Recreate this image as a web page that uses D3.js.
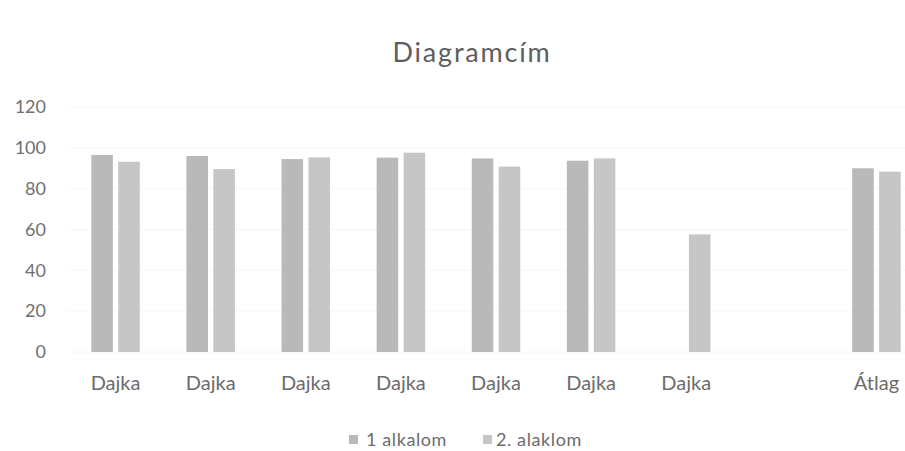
<!DOCTYPE html>
<html>
<head>
<meta charset="utf-8">
<script src="https://cdn.jsdelivr.net/npm/d3@7"></script>
<style>
  html, body { margin: 0; padding: 0; background: #fff; }
  svg { display: block; font-family: Lato, "Open Sans", sans-serif; }
</style>
</head>
<body>
<svg id="chart" width="905" height="451"></svg>
<script>
const title = "Diagramcím";
const categories = ["Dajka", "Dajka", "Dajka", "Dajka", "Dajka", "Dajka", "Dajka", "", "Átlag"];
const seriesNames = ["1 alkalom", "2. alaklom"];
const series1 = [96.5, 96, 94.5, 95.2, 94.8, 93.7, null, null, 90.0];
const series2 = [93.2, 89.6, 95.3, 97.6, 90.8, 94.8, 57.6, null, 88.3];
const yTicks = [0, 20, 40, 60, 80, 100, 120];
const colors = ["#b9b9b9", "#c6c6c6"];

const svg = d3.select("#chart");
const idx = categories.map((d, i) => i);

const x0 = d3.scaleBand().domain(idx).range([68, 924]).padding(0);
const groupW = 48.5;
const x1 = d3.scaleBand().domain([0, 1]).range([0, groupW]).paddingInner(0.2).paddingOuter(0);
const y = d3.scaleLinear().domain([0, 120]).range([352, 107]);

// gridlines (very faint)
svg.append("g")
  .selectAll("line").data(yTicks).join("line")
  .attr("x1", 68).attr("x2", 905)
  .attr("y1", d => y(d)).attr("y2", d => y(d))
  .attr("stroke", "#f6f6f6").attr("stroke-width", 1);

// y axis labels
const yAxis = d3.axisLeft(y).tickValues(yTicks).tickSize(0).tickPadding(0);
const yg = svg.append("g").attr("transform", "translate(46,0)").call(yAxis);
yg.select(".domain").remove();
yg.selectAll("text").attr("font-size", 18).attr("fill", "#707070")
  .attr("font-family", "Lato, sans-serif");

// bars
const data = [series1, series2];
const groups = svg.append("g").selectAll("g").data(idx).join("g")
  .attr("transform", i => `translate(${x0(i) + x0.bandwidth() / 2 - groupW / 2},0)`);
groups.selectAll("rect")
  .data(i => [0, 1].map(s => ({ s, v: data[s][i] })).filter(d => d.v != null))
  .join("rect")
  .attr("x", d => x1(d.s))
  .attr("width", x1.bandwidth())
  .attr("y", d => y(d.v))
  .attr("height", d => y(0) - y(d.v))
  .attr("fill", d => colors[d.s]);

// x axis labels
const xAxis = d3.axisBottom(x0).tickSize(0).tickPadding(0).tickFormat(i => categories[i]);
const xg = svg.append("g").attr("transform", "translate(0,376)").call(xAxis);
xg.select(".domain").remove();
xg.selectAll("text").attr("font-size", 20).attr("fill", "#6c6c6c")
  .attr("font-family", "Lato, sans-serif").attr("dy", "0.71em");

// title
svg.append("text").attr("x", 472).attr("y", 62)
  .attr("text-anchor", "middle").attr("font-size", 27)
  .attr("letter-spacing", 1.8)
  .attr("fill", "#5e5e5e").text(title);

// legend
const legendItems = [{ x: 349, tx: 366 }, { x: 483, tx: 496 }];
const lg = svg.append("g");
seriesNames.forEach((name, s) => {
  lg.append("rect").attr("x", legendItems[s].x).attr("y", 435).attr("width", 9).attr("height", 9)
    .attr("fill", colors[s]);
  lg.append("text").attr("x", legendItems[s].tx).attr("y", 446)
    .attr("font-size", 18).attr("fill", "#6c6c6c").attr("letter-spacing", 0.6).text(name);
});
</script>
</body>
</html>
